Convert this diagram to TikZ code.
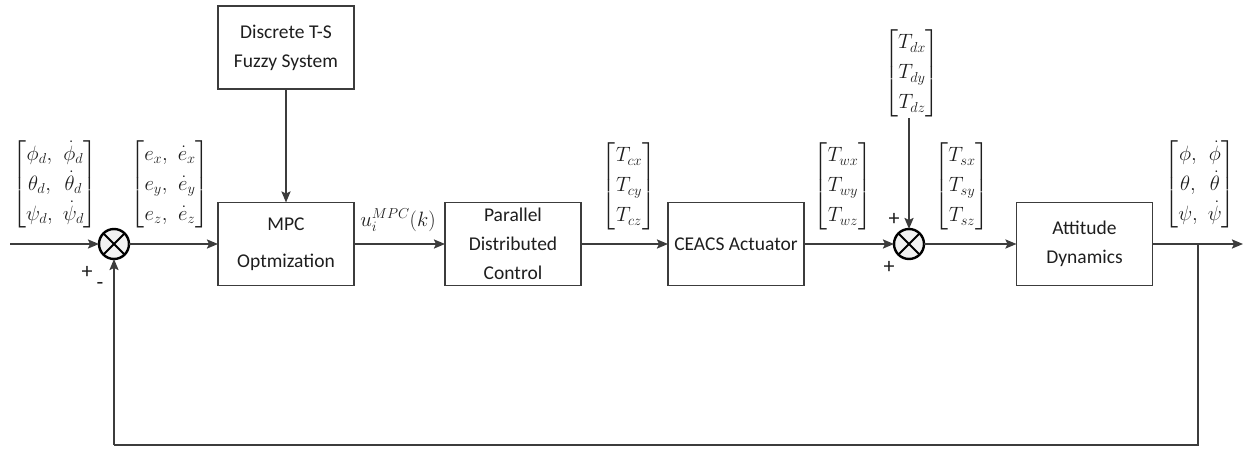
\documentclass[tikz,border=0pt]{standalone}
\usepackage{amsmath}
\usepackage{fontspec}
\setmainfont{Carlito}
\usetikzlibrary{arrows.meta}
\definecolor{ln}{HTML}{3C3C3C}
\definecolor{tx}{HTML}{1E1E1E}
\tikzset{
  blk/.style={draw=ln, line width=1.3pt, minimum width=136pt, minimum height=83pt,
    inner sep=0pt, outer sep=0pt, align=center, text=tx,
    font=\fontsize{19.5}{29}\selectfont},
  sumj/.style={circle, draw=black, line width=2.4pt, fill=gray!10, minimum size=30pt,
    inner sep=0pt, outer sep=0pt,
    path picture={\draw[line width=2pt]
      (path picture bounding box.north west) -- (path picture bounding box.south east)
      (path picture bounding box.north east) -- (path picture bounding box.south west);}},
  vec/.style={inner sep=0pt, text=tx, font=\fontsize{20.5}{24}\selectfont},
  sgn/.style={inner sep=0pt, text=tx, font=\fontsize{22}{24}\selectfont},
  flow/.style={draw=ln, line width=2pt, -{Stealth[length=11pt,width=9pt,inset=2pt]}},
  fb/.style={draw=ln, line width=1.8pt},
}
\begin{document}
\begin{tikzpicture}[x=1pt,y=-1pt]
\useasboundingbox (0,0) rectangle (1244,449);
\renewcommand{\arraystretch}{1.25}

% blocks
\node[blk] (fuzzy) at (286,47.5) {Discrete T-S\\Fuzzy System};
\node[blk, font=\fontsize{19.5}{37}\selectfont] (mpc) at (286,244) {MPC\\Optmization};
\node[blk] (pdc) at (513,244) {Parallel\\Distributed\\Control};
\node[blk] (ceacs) at (736,244) {CEACS Actuator};
\node[blk] (att) at (1084.5,244) {Attitude\\Dynamics};

% summing junctions
\node[sumj] (s1) at (114,244) {};
\node[sumj] (s2) at (909,244) {};

% free ends
\coordinate (in) at (10,244);
\coordinate (out) at (1243,244);
\coordinate (br) at (1198,244);
\coordinate (fbR) at (1198,445);
\coordinate (fbL) at (114,445);

% signal vectors
\node[vec] (vin) at (55,184) {$\begin{bmatrix}\phi_d, & \dot\phi_d\\ \theta_d, & \dot\theta_d\\ \psi_d, & \dot\psi_d\end{bmatrix}$};
\node[vec] (verr) at (170,184) {$\begin{bmatrix}e_x, & \dot e_x\\ e_y, & \dot e_y\\ e_z, & \dot e_z\end{bmatrix}$};
\node[vec] (vu) at (398,220) {$u_i^{MPC}(k)$};
\node[vec] (vc) at (629,186) {$\begin{bmatrix}T_{cx}\\ T_{cy}\\ T_{cz}\end{bmatrix}$};
\node[vec] (vw) at (843,186) {$\begin{bmatrix}T_{wx}\\ T_{wy}\\ T_{wz}\end{bmatrix}$};
\node[vec] (vd) at (912,73) {$\begin{bmatrix}T_{dx}\\ T_{dy}\\ T_{dz}\end{bmatrix}$};
\node[vec] (vs) at (962,186) {$\begin{bmatrix}T_{sx}\\ T_{sy}\\ T_{sz}\end{bmatrix}$};
\node[vec] (vout) at (1200,184) {$\begin{bmatrix}\phi, & \dot\phi\\ \theta, & \dot\theta\\ \psi, & \dot\psi\end{bmatrix}$};

% signs
\node[sgn] (p1) at (87,272) {+};
\node[sgn] (m1) at (100,286) {-};
\node[sgn] (p2) at (894,219) {+};
\node[sgn] (p3) at (889,267) {+};

% forward path
\draw[flow] (in) -- (s1.west);
\draw[flow] (s1.east) -- (mpc.west);
\draw[flow] (fuzzy.south) -- (mpc.north);
\draw[flow] (mpc.east) -- (pdc.west);
\draw[flow] (pdc.east) -- (ceacs.west);
\draw[flow] (ceacs.east) -- (s2.west);
\draw[flow] (s2 |- vd.south) -- (s2.north);
\draw[flow] (s2.east) -- (att.west);
\draw[flow] (att.east) -- (out);

% feedback path
\draw[fb] (br) -- (fbR) -- (fbL);
\draw[flow, line width=1.8pt] (fbL) -- (s1.south);
\end{tikzpicture}
\end{document}
